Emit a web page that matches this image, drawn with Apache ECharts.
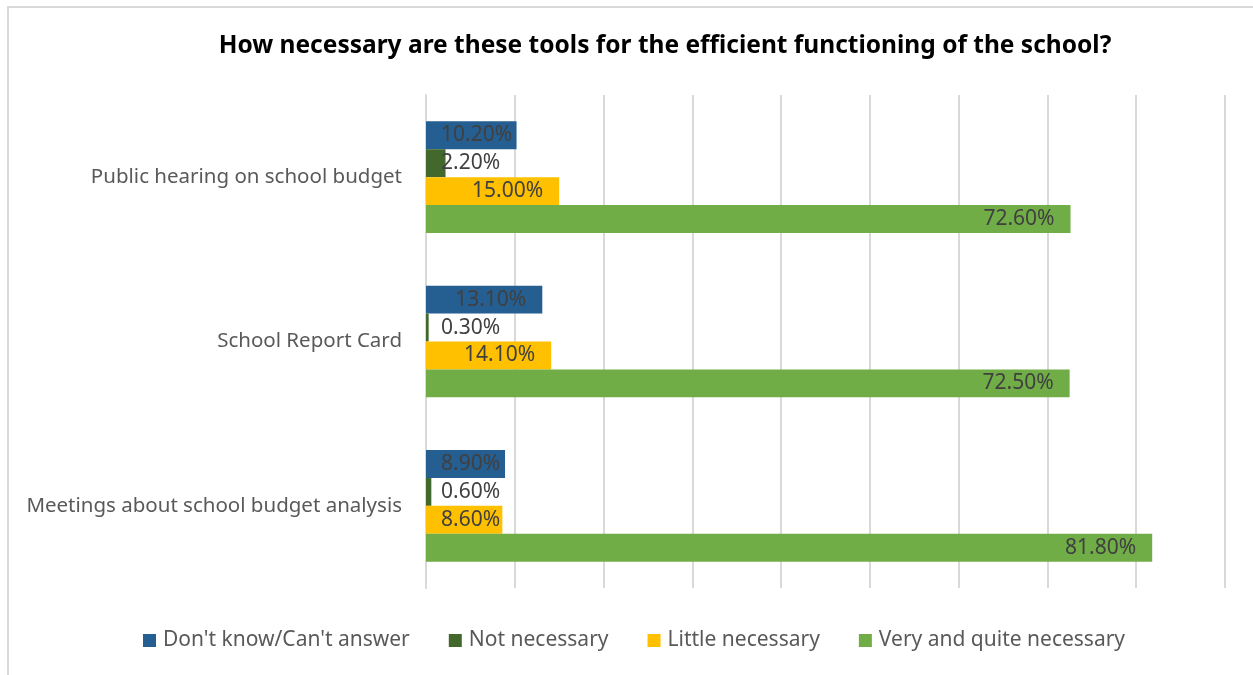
<!DOCTYPE html>
<html>
<head>
<meta charset="utf-8">
<script src="https://cdn.jsdelivr.net/npm/echarts@6/dist/echarts.min.js"></script>
<style>
  html, body { margin: 0; padding: 0; background: #fff; }
  #frame { position: absolute; left: 7px; top: 6px; width: 1300px; height: 700px;
           border-left: 2px solid #d9d9d9; border-top: 2px solid #d9d9d9; }
  #chart { position: absolute; left: 0; top: 0; width: 1253px; height: 675px; }
</style>
</head>
<body>
<div id="frame"></div>
<div id="chart"></div>
<script>
  var categories = ['Public hearing on school budget', 'School Report Card', 'Meetings about school budget analysis'];
  var seriesNames = ["Don't know/Can't answer", 'Not necessary', 'Little necessary', 'Very and quite necessary'];
  var dontKnow = [10.2, 13.1, 8.9];
  var notNecessary = [2.2, 0.3, 0.6];
  var littleNecessary = [15.0, 14.1, 8.6];
  var veryNecessary = [72.6, 72.5, 81.8];
  var colors = ['#255E91', '#43682B', '#FFC000', '#70AD47'];

  // short bars get their label pushed to the left, like excel does
  function toData(arr) {
    return arr.map(function (v) {
      var small = v < 11.5;
      return {
        value: v,
        label: small ? { position: 'insideLeft', distance: 15 } : { position: 'insideRight', distance: 16 }
      };
    });
  }

  var chart = echarts.init(document.getElementById('chart'));
  var allValues = [dontKnow, notNecessary, littleNecessary, veryNecessary];

  chart.setOption({
    animation: false,
    color: colors,
    title: {
      text: 'How necessary are these tools for the efficient functioning of the school?',
      left: 660,
      top: 29,
      textAlign: 'center',
      textStyle: { fontFamily: 'Noto Sans', fontSize: 24.5, fontWeight: 'bold', color: '#000' }
    },
    legend: {
      bottom: 19,
      left: 138,
      itemWidth: 13,
      itemHeight: 13,
      itemGap: 39,
      icon: 'rect',
      textStyle: { fontFamily: 'Noto Sans', fontSize: 21, color: '#595959', padding: [0, 0, 0, 2] },
      data: seriesNames
    },
    grid: { left: 426, right: 28, top: 95, bottom: 87 },
    xAxis: {
      type: 'value',
      min: 0,
      max: 90,
      interval: 10,
      axisLabel: { show: false },
      axisLine: { show: false },
      axisTick: { show: false },
      splitLine: { lineStyle: { color: '#d9d9d9', width: 2 } }
    },
    yAxis: {
      type: 'category',
      inverse: true,
      data: categories,
      axisTick: { show: false },
      axisLine: { lineStyle: { color: '#d9d9d9', width: 2 } },
      axisLabel: { margin: 24, fontFamily: 'Noto Sans', fontSize: 20.5, color: '#595959' }
    },
    series: seriesNames.map(function (name, i) {
      return {
        name: name,
        type: 'bar',
        barGap: 0,
        barCategoryGap: '32%',
        data: toData(allValues[i]),
        label: {
          show: true,
          fontFamily: 'Noto Sans',
          fontSize: 21,
          color: '#404040',
          formatter: function (p) { return p.value.toFixed(2) + '%'; }
        }
      };
    })
  });
</script>
</body>
</html>
